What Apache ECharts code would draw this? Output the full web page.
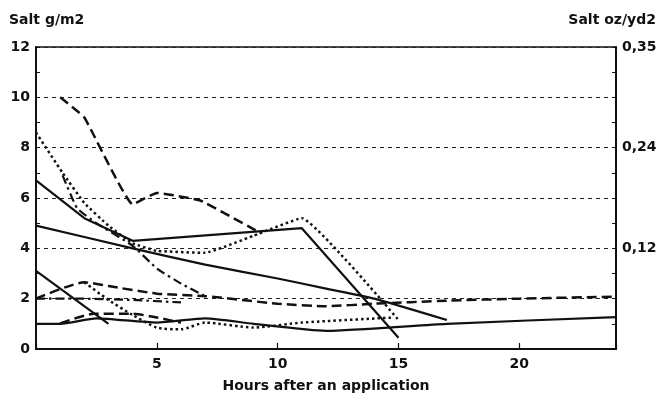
<!DOCTYPE html>
<html>
<head>
<meta charset="utf-8">
<script src="https://cdn.jsdelivr.net/npm/echarts@6/dist/echarts.min.js"></script>
<style>
  html, body { margin: 0; padding: 0; background: #fff; }
  #chart { width: 660px; height: 398px; }
</style>
</head>
<body>
<div id="chart"></div>
<script>
// hours after application, salt in g/m2
var solidA = [[0, 6.7], [2, 5.2], [4, 4.3], [11, 4.8], [15, 0.45]];
var solidB = [[0, 4.9], [4, 4.0], [7, 3.35], [10, 2.8], [12, 2.4], [14, 2.0], [17, 1.15]];
var solidC = [[0, 3.1], [3, 1.0]];
var solidD = [[0, 1.0], [1, 1.0], [2.5, 1.22], [5, 1.05], [7, 1.22], [9, 1.0], [12, 0.72], [17, 1.0], [24, 1.27]];
var dashedE = [[1, 10], [2, 9.2], [4, 5.75], [5, 6.2], [6.8, 5.9], [9.3, 4.6]];
var dashedI = [[0, 2.0], [2, 2.65], [3, 2.5], [5, 2.2], [7, 2.1], [10, 1.8], [12, 1.7], [14, 1.8], [17, 1.92], [20, 2.0], [24, 2.08]];
var dashedL = [[1, 1.02], [2.4, 1.4], [4, 1.4], [5, 1.25], [6, 1.05]];
var dottedF = [[0, 8.6], [1.1, 7.0], [2, 5.8], [3, 4.9], [4, 4.2], [5, 3.9], [7, 3.82], [9, 4.5], [11, 5.2], [15, 1.15]];
var dottedG = [[2, 2.65], [3, 1.95], [4, 1.35], [5, 0.85], [6, 0.78], [7, 1.05], [9, 0.85], [11, 1.05], [14.8, 1.25]];
var dashDotH = [[1.1, 6.9], [1.7, 5.6], [2.5, 5.0], [4, 4.1], [5, 3.2], [6, 2.6], [7, 2.1]];
var dashDotK = [[0, 2.0], [2, 2.0], [4, 1.95], [6, 1.85]];

var xTicks = [5, 10, 15, 20];
var rightLabels = { 4: '0,12', 8: '0,24', 12: '0,35' };

var ink = '#111';
var font = 'DejaVu Sans';

var dotted = [2.5, 3];
var dashed = [10, 5];
var dashDot = [9, 4, 2.5, 4];

function line(data, type, width, smooth) {
    return {
        type: 'line',
        data: data,
        symbol: 'none',
        smooth: smooth || false,
        lineStyle: { color: ink, width: width, type: type }
    };
}

var labelStyle = { color: ink, fontSize: 14, fontFamily: font, fontWeight: 'bold' };

var myChart = echarts.init(document.getElementById('chart'), null, { renderer: 'canvas' });

myChart.setOption({
    animation: false,
    grid: { left: 36, right: 44, top: 47, bottom: 43, show: true, borderColor: ink, borderWidth: 1.5 },
    graphic: [
        { type: 'text', left: 9, top: 13, style: { text: 'Salt g/m2', font: 'bold 14px ' + font, fill: ink } },
        { type: 'text', right: 4, top: 13, style: { text: 'Salt oz/yd2', font: 'bold 14px ' + font, fill: ink } }
    ],
    xAxis: {
        type: 'value', min: 0, max: 24, interval: 5,
        name: 'Hours after an application', nameLocation: 'middle', nameGap: 30,
        nameTextStyle: labelStyle,
        axisLine: { lineStyle: { color: ink, width: 2 } },
        axisTick: { inside: true, length: 6, lineStyle: { color: ink, width: 1.2 } },
        axisLabel: Object.assign({ margin: 8, formatter: function (v) { return xTicks.indexOf(v) >= 0 ? String(v) : ''; } }, labelStyle),
        splitLine: { show: false }
    },
    yAxis: [{
        type: 'value', min: 0, max: 12, interval: 2,
        axisLine: { show: true, lineStyle: { color: ink, width: 2 } },
        axisTick: { show: true, inside: true, length: 4, lineStyle: { color: ink } },
        minorTick: { show: true, splitNumber: 2, length: 4, lineStyle: { color: ink } },
        axisLabel: Object.assign({ margin: 6 }, labelStyle),
        splitLine: { show: true, lineStyle: { color: '#222', width: 1, type: [4, 4] } }
    }, {
        type: 'value', min: 0, max: 12, interval: 1, position: 'right',
        axisLine: { show: true, lineStyle: { color: ink, width: 2 } },
        axisTick: { show: true, inside: true, length: 4, lineStyle: { color: ink } },
        axisLabel: Object.assign({ margin: 6, formatter: function (v) { return rightLabels[v] || ''; } }, labelStyle),
        splitLine: { show: false }
    }],
    series: [
        line(solidA, 'solid', 2.2),
        line(solidB, 'solid', 2.2, 0.15),
        line(solidC, 'solid', 2.2),
        line(solidD, 'solid', 2.2, 0.2),
        line(dashedE, dashed, 2.5, 0.1),
        line(dashedI, dashed, 2.5, 0.2),
        line(dashedL, dashed, 2.5, 0.2),
        line(dottedF, dotted, 2.5, 0.1),
        line(dottedG, dotted, 2.5, 0.2),
        line(dashDotH, dashDot, 2.2, 0.15),
        line(dashDotK, dashDot, 2.2)
    ]
});
</script>
</body>
</html>
